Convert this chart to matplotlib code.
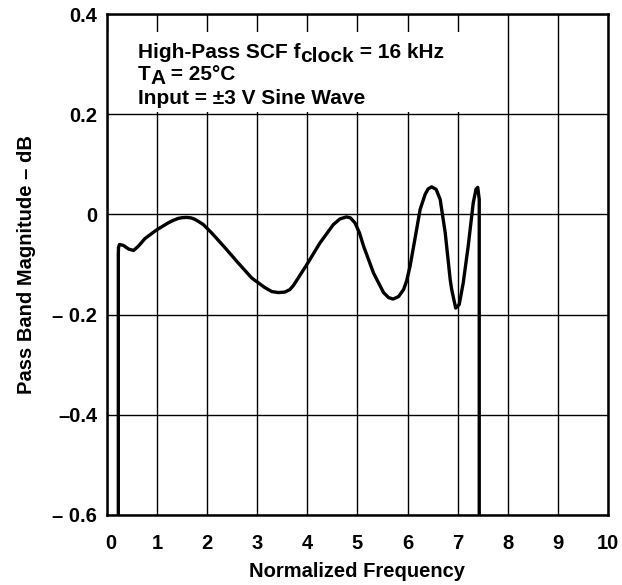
import numpy as np
import matplotlib.pyplot as plt
from matplotlib.transforms import offset_copy, ScaledTranslation

plt.rcParams['font.family'] = 'Liberation Sans'
plt.rcParams['font.weight'] = 'bold'

# curva (frequencia normalizada, magnitude em dB)
freq = [0.226, 0.226, 0.23, 0.25, 0.33, 0.43, 0.53, 0.63, 0.76, 0.99, 1.22, 1.32,
        1.42, 1.50, 1.59, 1.68, 1.76, 1.84, 1.92, 2.09, 2.36, 2.62, 2.89, 3.15,
        3.29, 3.42, 3.55, 3.65, 3.72, 3.99, 4.25, 4.52, 4.65, 4.78, 4.86, 4.95,
        5.04, 5.12, 5.32, 5.52, 5.62, 5.71, 5.82, 5.92, 5.98, 6.05, 6.18, 6.25,
        6.31, 6.35, 6.41, 6.48, 6.57, 6.65, 6.75, 6.85, 6.88, 6.96, 7.03, 7.11,
        7.21, 7.31, 7.365, 7.40, 7.43, 7.43]
mag = [-0.62, -0.08, -0.066, -0.06, -0.062, -0.069, -0.072, -0.063, -0.048, -0.031,
       -0.017, -0.012, -0.008, -0.0065, -0.006, -0.007, -0.010, -0.015, -0.020,
       -0.037, -0.067, -0.097, -0.127, -0.146, -0.154, -0.156, -0.155, -0.150,
       -0.142, -0.100, -0.057, -0.020, -0.009, -0.005, -0.007, -0.017, -0.037,
       -0.063, -0.117, -0.156, -0.166, -0.169, -0.164, -0.150, -0.133, -0.103,
       -0.030, 0.010, 0.028, 0.040, 0.051, 0.055, 0.050, 0.030, -0.036, -0.130,
       -0.150, -0.187, -0.180, -0.137, -0.063, 0.023, 0.050, 0.054, 0.03, -0.62]

xticks = list(range(0, 11))
yticks = [0.4, 0.2, 0, -0.2, -0.4, -0.6]
ytick_labels = ['0.4', '0.2', '0', '\u2013 0.2', '\u20130.4', '\u2013 0.6']

linhas = [
    [('High-Pass SCF f', 0), ('clock', -4), (' = 16 kHz', 0)],
    [('T', 0), ('A', -4), (' = 25\u00b0C', 0)],
    [('Input = \u00b13 V Sine Wave', 0)],
]
y_linhas = [0.312, 0.268, 0.220]

fig = plt.figure(figsize=(6.22, 5.85), dpi=100)
ax = fig.add_axes([0.172, 0.1197, 0.8055, 0.8563])

ax.set_xlim(0, 10)
ax.set_ylim(-0.6, 0.4)
ax.set_xticks(xticks)
ax.set_yticks(yticks)
ax.set_xticklabels([str(t) for t in xticks], fontsize=14.5, fontweight='bold')
ax.set_yticklabels(ytick_labels, fontsize=14.5, fontweight='bold')
ax.tick_params(axis='y', length=0, pad=7)
ax.tick_params(axis='x', length=0, pad=14)
# o "0" do eixo x fica um pouco deslocado para a direita
lbl0 = ax.get_xticklabels()[0]
lbl0.set_transform(lbl0.get_transform() + ScaledTranslation(4 / 100, 0, fig.dpi_scale_trans))
ax.grid(True, color='black', linewidth=1.0)
ax.set_axisbelow(True)
for s in ax.spines.values():
    s.set_linewidth(1.8)

# caixa branca atras do texto
caixa = plt.Rectangle((0, 0.204), 7.5, 0.16, facecolor='white', edgecolor='none', zorder=1.5)
ax.add_patch(caixa)

ax.plot(freq, mag, color='black', linewidth=2.4, solid_joinstyle='round',
        solid_capstyle='butt', zorder=3)

renderer = fig.canvas.get_renderer()
for pecas, yl in zip(linhas, y_linhas):
    dx = 0
    for txt, dy in pecas:
        tr = offset_copy(ax.transData, fig, x=dx, y=dy, units='dots')
        t = ax.text(0.61, yl, txt, fontsize=15, fontweight='bold', zorder=4, transform=tr)
        dx += t.get_window_extent(renderer).width

ax.set_xlabel('Normalized Frequency', fontsize=14.5, fontweight='bold', labelpad=6)
ax.set_ylabel('Pass Band Magnitude \u2013 dB', fontsize=14.5, fontweight='bold', labelpad=12)

plt.savefig('out.png', dpi=100)
